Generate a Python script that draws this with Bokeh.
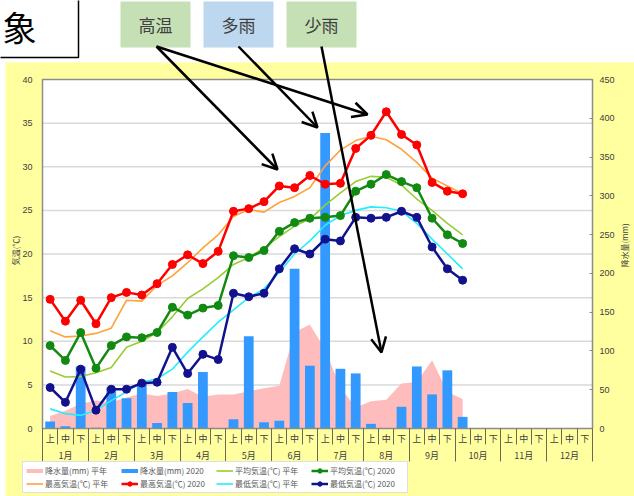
import math
from bokeh.plotting import figure
from bokeh.models import (Range1d, LinearAxis, FixedTicker, Legend, LegendItem,
                          Arrow, OpenHead, Label)
from bokeh.embed import file_html
from bokeh.resources import INLINE

# ---------------- data ----------------
dekad_names = ["上", "中", "下"] * 12
month_names = [f"{m}月" for m in range(1, 13)]
temp_ticks = [0, 5, 10, 15, 20, 25, 30, 35, 40]
precip_ticks = [0, 50, 100, 150, 200, 250, 300, 350, 400, 450]

precip_normal = [16, 23, 32, 36, 34, 40, 45, 42, 45, 51, 41, 44, 44, 48,
                 52, 55, 124, 134, 102, 53, 27, 35, 37, 58, 60, 88, 47, 38]
precip_2020 = [9, 3, 80, 1, 53, 39, 58, 7, 47, 33, 73, 0, 12, 119,
               8, 10, 206, 81, 381, 77, 71, 6, 0, 28, 80, 44, 75, 15]
tmax_normal = [11.2, 10.5, 10.6, 10.9, 11.5, 14.7, 14.6, 16.4, 17.5, 19.0, 20.7, 22.2, 24.3, 25.1,
               24.8, 25.9, 26.6, 27.6, 30.1, 31.9, 33.0, 33.5, 33.1, 32.0, 30.5, 28.7, 27.8, 26.9]
tmax_2020 = [14.8, 12.3, 14.7, 12.0, 15.0, 15.6, 15.3, 16.6, 18.8, 19.9, 18.9, 20.3, 24.9, 25.2,
             26.0, 27.8, 27.6, 29.0, 28.0, 28.1, 32.1, 33.6, 36.3, 33.7, 32.5, 28.2, 27.2, 26.9]
tmean_normal = [6.6, 5.9, 5.95, 6.4, 7.0, 9.3, 10.0, 11.0, 12.8, 14.9, 16.0, 17.3, 18.8, 19.6,
                20.7, 22.0, 23.2, 24.0, 25.6, 27.0, 28.3, 28.9, 28.8, 27.9, 26.3, 25.0, 23.5, 22.2]
tmean_2020 = [9.5, 7.8, 11.0, 6.9, 9.5, 10.5, 10.4, 11.0, 13.9, 13.0, 13.8, 14.1, 19.8, 19.6,
              20.4, 22.6, 23.6, 24.1, 24.2, 24.4, 27.2, 28.0, 29.1, 28.3, 27.6, 24.1, 22.2, 21.2]
tmin_normal = [2.25, 1.7, 1.5, 2.1, 3.2, 4.2, 5.3, 5.7, 6.8, 8.75, 10.5, 12.2, 13.6, 15.0,
               16.0, 17.9, 20.0, 21.5, 23.3, 24.4, 25.0, 25.4, 25.3, 24.9, 23.5, 21.7, 20.0, 18.3]
tmin_2020 = [4.7, 3.0, 6.8, 2.1, 4.5, 4.5, 5.2, 5.3, 9.3, 6.3, 8.5, 7.9, 15.5, 15.1,
             15.5, 18.3, 20.6, 20.0, 21.7, 21.5, 24.2, 24.1, 24.2, 24.9, 24.2, 20.8, 18.3, 17.0]

n_dekads = len(dekad_names)
xi = list(range(len(tmax_2020)))

# ---------------- geometry helpers (page px -> data) ----------------
W, H = 634, 496
OFF = 0
CH_L, CH_R, CH_T, CH_B = 42, 592, 79, 428
DX = (CH_R - CH_L) / n_dekads
DY = (CH_B - CH_T) / 40.0
RATIO = 450 / 40.0


def X(px):
    return (px - CH_L) / DX - 0.5


def Y(py):
    return (CH_B - py) / DY


YELLOW = "#ffff9f"
PINK = "#ffbcbc"
BLUE = "#3399ff"
ORANGE = "#ffa33a"
RED = "#ff0000"
YGREEN = "#99cc33"
GREEN = "#128a12"
CYAN = "#22eeff"
NAVY = "#12128e"
BORDER = "#8c8c8c"
SEP = "#6b6b55"
TXT = "#404040"
JP = "Noto Sans CJK JP"
NUM = "Liberation Sans"

p = figure(width=W, height=H, x_range=Range1d(X(OFF), X(OFF + W)),
           y_range=Range1d(Y(OFF + H), Y(OFF)), output_backend="svg",
           toolbar_location=None, x_axis_type=None, y_axis_type=None, min_border=0)
p.extra_y_ranges = {"precip": Range1d(Y(OFF + H) * RATIO, Y(OFF) * RATIO)}
p.outline_line_color = None
p.background_fill_color = "white"
p.border_fill_color = "white"

# backgrounds
p.quad(left=X(5), right=X(900), bottom=Y(900), top=Y(62), fill_color=YELLOW,
       line_color=None, level="image")
p.quad(left=-0.5, right=n_dekads - 0.5, bottom=0, top=40, fill_color="white",
       line_color=None, level="image")
grid_vals = temp_ticks[1:-1]
p.segment(x0=[-0.5] * len(grid_vals), x1=[n_dekads - 0.5] * len(grid_vals),
          y0=grid_vals, y1=grid_vals, line_color="#d9d9d9", line_width=1.5, level="underlay")

# precipitation
r_pn = p.varea(x=xi, y1=[0] * len(xi), y2=precip_normal, y_range_name="precip",
               fill_color=PINK)
r_pb = p.vbar(x=xi, top=precip_2020, bottom=0, width=0.64, y_range_name="precip",
              fill_color=BLUE, line_color=None)

# temperature lines
r_maxn = p.line(xi, tmax_normal, line_color=ORANGE, line_width=1.6)
r_meann = p.line(xi, tmean_normal, line_color=YGREEN, line_width=1.6)
r_minn = p.line(xi, tmin_normal, line_color=CYAN, line_width=1.6)
r_max_l = p.line(xi, tmax_2020, line_color=RED, line_width=2.5)
r_max_s = p.scatter(xi, tmax_2020, size=8, fill_color=RED, line_color=RED)
r_mean_l = p.line(xi, tmean_2020, line_color=GREEN, line_width=2.5)
r_mean_s = p.scatter(xi, tmean_2020, size=8, fill_color=GREEN, line_color=GREEN)
r_min_l = p.line(xi, tmin_2020, line_color=NAVY, line_width=2.5)
r_min_s = p.scatter(xi, tmin_2020, size=8, fill_color=NAVY, line_color=NAVY)

# plot area border
p.quad(left=-0.5, right=n_dekads - 0.5, bottom=0, top=40, fill_color=None,
       line_color=BORDER, line_width=1.5, level="guide")

# axes
ax_t = LinearAxis(fixed_location=-0.5, ticker=FixedTicker(ticks=temp_ticks),
                  axis_line_color=None, major_tick_in=0, major_tick_out=0,
                  minor_tick_line_color=None, major_label_standoff=10,
                  major_label_text_font_size="9px", major_label_text_font=NUM,
                  major_label_text_color=TXT)
p.add_layout(ax_t, "left")

ax_p = LinearAxis(y_range_name="precip", fixed_location=n_dekads - 0.5,
                  ticker=FixedTicker(ticks=precip_ticks), axis_line_color=None,
                  major_tick_in=3, major_tick_out=0, major_tick_line_color=BORDER,
                  minor_tick_line_color=None, major_label_standoff=7,
                  major_label_text_font_size="9px", major_label_text_font=NUM,
                  major_label_text_color=TXT)
p.add_layout(ax_p, "right")

# separators under the x axis (dekads and months)
ax_sep_d = LinearAxis(fixed_location=0,
                      ticker=FixedTicker(ticks=[i - 0.5 for i in range(n_dekads + 1)]),
                      axis_line_color=None, major_tick_in=0, major_tick_out=16,
                      major_tick_line_color=SEP, minor_tick_line_color=None,
                      major_label_text_color=None)
p.add_layout(ax_sep_d, "below")
ax_sep_m = LinearAxis(fixed_location=0,
                      ticker=FixedTicker(ticks=[3 * m - 0.5 for m in range(13)]),
                      axis_line_color=None, major_tick_in=0, major_tick_out=33,
                      major_tick_line_color=SEP, minor_tick_line_color=None,
                      major_label_text_color=None)
p.add_layout(ax_sep_m, "below")

# dekad and month labels
ax_d = LinearAxis(fixed_location=0, ticker=FixedTicker(ticks=list(range(n_dekads))),
                  major_label_overrides={i: dekad_names[i] for i in range(n_dekads)},
                  axis_line_color=None, major_tick_in=0, major_tick_out=0,
                  minor_tick_line_color=None, major_label_standoff=3,
                  major_label_text_font_size="9px", major_label_text_font=JP,
                  major_label_text_color=TXT)
p.add_layout(ax_d, "below")
ax_m = LinearAxis(fixed_location=0, ticker=FixedTicker(ticks=[3 * m + 1 for m in range(12)]),
                  major_label_overrides={3 * m + 1: month_names[m] for m in range(12)},
                  axis_line_color=None, major_tick_in=0, major_tick_out=0,
                  minor_tick_line_color=None, major_label_standoff=20,
                  major_label_text_font_size="9px", major_label_text_font=JP,
                  major_label_text_color=TXT)
p.add_layout(ax_m, "below")

p.add_layout(Label(x=X(15), y=Y(250), text="気温(℃)", angle=math.pi / 2,
                   text_align="center", text_baseline="middle", text_font=JP,
                   text_font_size="8px", text_color=TXT))
p.add_layout(Label(x=X(624), y=Y(245), text="降水量(mm)", angle=math.pi / 2,
                   text_align="center", text_baseline="middle", text_font=JP,
                   text_font_size="8px", text_color=TXT))

# legend
nan = float("nan")
d_pn = p.line([nan], [nan], line_color=PINK, line_width=4)
d_pb = p.line([nan], [nan], line_color=BLUE, line_width=4)
items = [
    LegendItem(label="降水量(mm) 平年", renderers=[d_pn]),
    LegendItem(label="降水量(mm) 2020", renderers=[d_pb]),
    LegendItem(label="平均気温(℃) 平年", renderers=[r_meann]),
    LegendItem(label="平均気温(℃) 2020", renderers=[r_mean_l, r_mean_s]),
    LegendItem(label="最高気温(℃) 平年", renderers=[r_maxn]),
    LegendItem(label="最高気温(℃) 2020", renderers=[r_max_l, r_max_s]),
    LegendItem(label="最低気温(℃) 平年", renderers=[r_minn]),
    LegendItem(label="最低気温(℃) 2020", renderers=[r_min_l, r_min_s]),
]
legend = Legend(items=items, location=(22, 3), orientation="horizontal", ncols=4,
                glyph_width=17, glyph_height=11, label_height=11, label_width=74,
                label_standoff=2, spacing=2, padding=3, margin=0,
                label_text_font=JP, label_text_font_size="8px", label_text_color="#595959",
                border_line_color="#bfbfbf", border_line_width=1,
                background_fill_color="white", background_fill_alpha=1)
p.add_layout(legend)

# top annotation boxes
p.quad(left=X(-30), right=X(78), bottom=Y(57), top=Y(-30), fill_color="white",
       line_color="black", line_width=1.5)
p.add_layout(Label(x=X(19), y=Y(26), text="象", text_align="center", text_baseline="middle",
                   text_font=JP, text_font_size="34px", text_color="black"))

boxes = [("高温", 120, 190, "#c5e0b4"), ("多雨", 203, 273, "#bdd7ee"), ("少雨", 286, 356, "#c5e0b4")]
for txt, l, r, col in boxes:
    p.quad(left=X(l), right=X(r), bottom=Y(47), top=Y(1), fill_color=col, line_color=None)
    p.add_layout(Label(x=X((l + r) / 2), y=Y(24), text=txt, text_align="center",
                       text_baseline="middle", text_font=JP, text_font_size="17px",
                       text_color=TXT))

arrows = [((156, 46), (277, 169)), ((156, 46), (367, 114)),
          ((238, 46), (317, 127)), ((321, 46), (381, 352))]
for (sx, sy), (ex, ey) in arrows:
    p.add_layout(Arrow(x_start=X(sx), y_start=Y(sy), x_end=X(ex), y_end=Y(ey),
                       line_color="black", line_width=2.5,
                       end=OpenHead(size=15, line_width=2.5, line_color="black")))

open("out.html", "w").write(file_html(p, INLINE))
